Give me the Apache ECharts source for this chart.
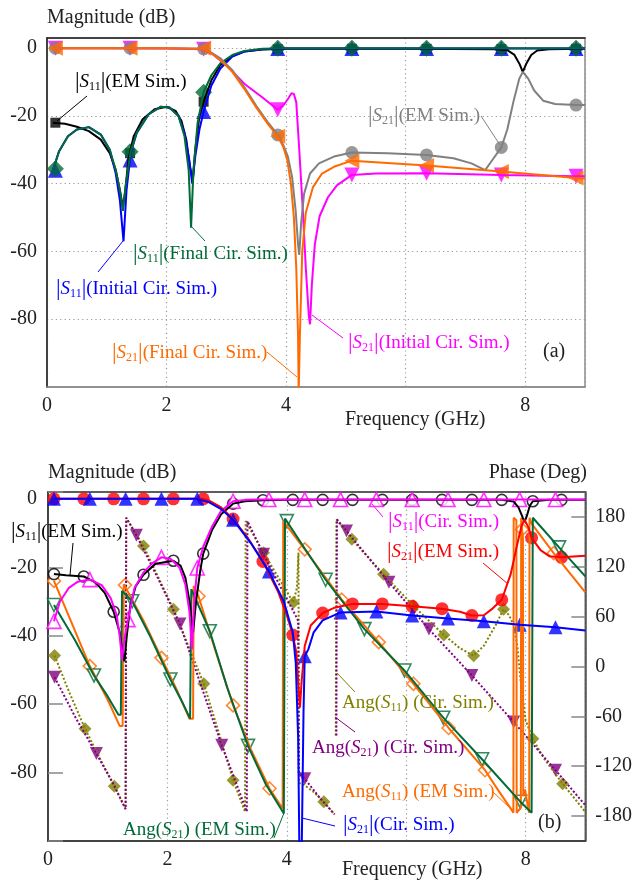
<!DOCTYPE html>
<html><head><meta charset="utf-8">
<script src="https://cdn.jsdelivr.net/npm/echarts@6/dist/echarts.min.js"></script>
<style>html,body{margin:0;padding:0;background:#fff}#c{width:635px;height:881px}</style>
</head><body><div id="c"></div>
<script>
// ---------------- DATA : panel (a) magnitude (dB) vs frequency (GHz) ----------------
const xTicks = [0, 2, 4, 8];
const a_s11_em = [[0.1,-22],[0.3,-22.3],[0.5,-23.2],[0.7,-24.5],[0.9,-27],[1.05,-31],[1.15,-36],[1.22,-42],[1.27,-47],[1.31,-42],[1.36,-33],[1.45,-26],[1.6,-21],[1.8,-18],[2.0,-17.3],[2.15,-18.5],[2.25,-21.5],[2.33,-27],[2.39,-35],[2.44,-39],[2.48,-30],[2.55,-20],[2.62,-15.8],[2.75,-9.5],[2.9,-5],[3.1,-2.3],[3.3,-1],[3.6,-0.4],[4,-0.2],[6,-0.2],[7.5,-0.3],[7.7,-0.6],[7.82,-2],[7.9,-4.5],[7.96,-7],[8.02,-4.5],[8.1,-2],[8.2,-0.7],[8.4,-0.3],[9,-0.2]];
const a_s11_em_mk = [[0.14,-22],[1.39,-31],[2.62,-15.8],[3.86,-0.3],[5.1,-0.2],[6.35,-0.2],[7.6,-0.3],[8.85,-0.2]];
const a_s11_ini = [[0.1,-36],[0.2,-30.5],[0.35,-26],[0.5,-24],[0.7,-23.3],[0.9,-25.5],[1.05,-30],[1.15,-37],[1.22,-45],[1.28,-57],[1.33,-42],[1.4,-31],[1.5,-25],[1.7,-19.5],[1.9,-17.3],[2.05,-17.5],[2.2,-20],[2.3,-25],[2.38,-33],[2.43,-40],[2.48,-32],[2.55,-24],[2.62,-18.7],[2.75,-11],[2.9,-6],[3.1,-2.5],[3.3,-1],[3.6,-0.3],[4,-0.1],[9,-0.1]];
const a_s11_ini_mk = [[0.14,-36],[1.39,-33],[2.62,-18.7],[3.86,-0.1],[5.1,-0.1],[6.35,-0.1],[7.6,-0.1],[8.85,-0.1]];
const a_s11_fin = [[0.1,-36],[0.2,-30.5],[0.35,-26],[0.5,-24],[0.7,-23.3],[0.9,-25.5],[1.05,-30],[1.15,-36],[1.22,-42],[1.27,-48],[1.32,-40],[1.4,-30.5],[1.5,-25],[1.7,-19.5],[1.9,-17.3],[2.05,-17.5],[2.2,-20],[2.3,-26],[2.37,-36],[2.41,-53],[2.45,-36],[2.52,-22],[2.62,-13],[2.75,-8],[2.9,-4.5],[3.1,-2],[3.3,-0.8],[3.6,-0.2],[4,0],[9,0]];
const a_s11_fin_mk = [[0.14,-35.6],[1.39,-30.6],[2.62,-13],[3.86,0],[5.1,0],[6.35,0],[7.6,0],[8.85,0]];
const a_s21_ini = [[0.1,0],[1.0,0],[2.0,-0.1],[2.62,-0.3],[2.75,-1.5],[3.0,-5],[3.3,-10.5],[3.6,-14.5],[3.86,-18.2],[3.95,-17],[4.03,-15],[4.09,-13.3],[4.13,-13.5],[4.17,-16],[4.22,-30],[4.28,-48],[4.33,-65],[4.38,-79],[4.40,-81.5],[4.43,-70],[4.48,-58],[4.56,-49.6],[4.7,-44],[4.85,-40.5],[5.1,-37.4],[5.5,-37],[6.35,-36.9],[7.6,-37.4],[8.85,-37.8],[9,-37.8]];
const a_s21_ini_mk = [[0.14,0],[1.39,0],[2.62,-0.3],[3.86,-18.2],[5.1,-37.4],[6.35,-36.9],[7.6,-37.4],[8.85,-37.8]];
const a_s21_em = [[0.1,0],[2.0,0],[2.62,-0.2],[2.75,-1.3],[2.9,-3],[3.1,-6.5],[3.3,-11.5],[3.5,-17],[3.7,-22],[3.86,-25.6],[3.95,-28.5],[4.03,-32],[4.1,-38],[4.16,-48],[4.2,-58],[4.22,-61],[4.25,-52],[4.3,-43],[4.4,-37],[4.55,-34],[4.8,-32],[5.1,-30.8],[5.7,-31],[6.35,-31.5],[6.8,-32.5],[7.1,-34],[7.33,-36],[7.45,-33],[7.6,-29.3],[7.7,-24],[7.8,-16],[7.9,-9],[7.96,-7],[8.05,-9],[8.15,-12.5],[8.3,-15.5],[8.5,-16.5],[8.85,-16.8],[9,-16.8]];
const a_s21_em_mk = [[0.14,0],[1.39,0],[2.62,-0.2],[3.86,-25.6],[5.1,-30.8],[6.35,-31.5],[7.6,-29.3],[8.85,-16.8]];
const a_s21_fin = [[0.1,0],[2.0,0],[2.62,-0.2],[2.75,-1.5],[2.9,-3.5],[3.1,-7],[3.3,-12],[3.5,-17.5],[3.7,-22.5],[3.86,-26],[3.95,-29],[4.02,-33],[4.08,-40],[4.13,-50],[4.17,-65],[4.2,-85],[4.21,-102],[4.23,-85],[4.27,-60],[4.33,-48.5],[4.45,-41],[4.6,-37],[4.8,-35],[5.1,-33.2],[6.35,-34.6],[7.6,-36.4],[8.85,-38.3],[9,-38.5]];
const a_s21_fin_mk = [[0.14,0],[1.39,0],[2.62,0],[3.86,-26],[5.1,-33.2],[6.35,-34.6],[7.6,-36.4],[8.85,-38.3]];

// ---------------- DATA : panel (b) ----------------
const b_s11_em = [[0.1,-22],[0.3,-22.3],[0.6,-22.7],[0.8,-24.5],[0.95,-27.5],[1.1,-33],[1.2,-39],[1.25,-45],[1.28,-47.5],[1.32,-40],[1.38,-31],[1.47,-25.5],[1.6,-22.2],[1.8,-19],[2.1,-18.1],[2.22,-19.5],[2.3,-23],[2.37,-30],[2.43,-39],[2.48,-30],[2.55,-21],[2.6,-16],[2.75,-9],[2.9,-4.5],[3.1,-1.4],[3.3,-0.7],[3.6,-0.4],[4,-0.3],[7.6,-0.3],[7.8,-0.8],[7.88,-2.5],[7.94,-5],[7.98,-6.8],[8.02,-5],[8.07,-2],[8.12,-0.7],[8.4,-0.3],[9,-0.3]];
const b_s11_em_mk = [[0.1,-22],[0.6,-22.7],[1.1,-33],[1.6,-22.2],[2.1,-18.1],[2.6,-16],[3.1,-1.4],[3.6,-0.4],[4.1,-0.3],[4.6,-0.3],[5.1,-0.3],[5.6,-0.3],[6.1,-0.3],[6.6,-0.3],[7.1,-0.3],[7.6,-0.3],[8.12,-0.7],[8.6,-0.3]];
const b_s11_cir = [[0.1,-35.8],[0.2,-30],[0.35,-26],[0.5,-24.2],[0.7,-23.6],[0.9,-25.2],[1.05,-29],[1.15,-34],[1.2,-40],[1.24,-47],[1.29,-40],[1.34,-35.3],[1.45,-26],[1.6,-21.5],[1.75,-18.8],[1.9,-17.1],[2.05,-17.5],[2.2,-20],[2.3,-25],[2.37,-33],[2.41,-44],[2.45,-30],[2.5,-20.2],[2.6,-14],[2.75,-8],[2.9,-3.5],[3.1,-0.7],[3.3,-0.3],[3.6,-0.2],[9,-0.2]];
const b_s11_cir_mk = [[0.1,-35.8],[0.7,-23.6],[1.34,-35.3],[1.9,-17.1],[2.5,-20.2],[3.1,-0.7],[3.7,-0.2],[4.3,-0.2],[4.9,-0.2],[5.5,-0.2],[6.1,-0.2],[6.7,-0.2],[7.3,-0.2],[7.9,-0.2],[8.5,-0.2]];
const b_s21_em = [[0.1,0],[2.6,0],[2.7,-0.5],[2.9,-2.5],[3.1,-5.9],[3.35,-11.5],[3.6,-18.3],[3.85,-27],[4.0,-34],[4.1,-39.8],[4.16,-45],[4.2,-56],[4.22,-61],[4.25,-53],[4.3,-43],[4.4,-37],[4.6,-33.4],[4.8,-31.8],[5.1,-30.7],[5.6,-30.7],[6.1,-31.4],[6.6,-32.1],[6.9,-33],[7.1,-34.1],[7.3,-34],[7.45,-32],[7.6,-29.5],[7.75,-22],[7.85,-14],[7.93,-8],[7.98,-6],[8.05,-8.5],[8.1,-11.4],[8.25,-15],[8.4,-16.8],[8.6,-17.1],[9,-16.6]];
const b_s21_em_mk = [[0.1,0],[0.6,0],[1.1,0],[1.6,0],[2.1,0],[2.6,0],[3.1,-5.9],[3.6,-18.3],[4.1,-39.8],[4.6,-33.4],[5.1,-30.7],[5.6,-30.7],[6.1,-31.4],[6.6,-32.1],[7.1,-34.1],[7.6,-29.5],[8.1,-11.4],[8.6,-17.1]];
const b_s21_cir = [[0.1,0],[2.5,0],[2.7,-1],[2.9,-3],[3.1,-6.1],[3.4,-13],[3.7,-21.2],[3.95,-30],[4.1,-39],[4.15,-48],[4.19,-70],[4.21,-102],[4.25,-102],[4.28,-62],[4.3,-46],[4.36,-44],[4.45,-39],[4.6,-35.5],[4.9,-33.2],[5.5,-32.9],[6.1,-34.1],[6.7,-35],[7.3,-35.8],[7.9,-36.8],[8.5,-37.5],[9,-38.5]];
const b_s21_cir_mk = [[0.1,0],[0.7,0],[1.3,0],[1.9,0],[2.5,0],[3.1,-6.1],[3.7,-21.2],[4.3,-46],[4.9,-33.2],[5.5,-32.9],[6.1,-34.1],[6.7,-35],[7.3,-35.8],[7.9,-36.8],[8.5,-37.5]];
// phase (deg)
const b_a21_em = [[0.1,74],[0.45,32],[0.77,-10.8],[1.0,-36],[1.18,-58],[1.22,-58],[1.24,91],[1.41,78.5],[1.7,38],[2.05,-15.6],[2.25,-43],[2.38,-62.8],[2.4,93],[2.71,42.5],[3.0,-25],[3.35,-95.5],[3.65,-142],[3.95,-176.8],[3.97,178],[4.3,142],[4.65,104.4],[5.0,72],[5.3,45],[5.97,-4.8],[6.62,-61.6],[7.27,-111.6],[7.91,-162.7],[8.1,-176],[8.12,179],[8.56,143.3],[9,108.5]];
const b_a21_em_mk = [[0.1,74],[0.77,-10.8],[1.41,78.5],[2.05,-15.6],[2.71,42.5],[3.35,-95.5],[4.0,175],[4.65,104.4],[5.3,45],[5.97,-4.8],[6.62,-61.6],[7.27,-111.6],[7.91,-162.7],[8.56,143.3]];
const b_a11_em = [[0.1,103],[0.4,52],[0.7,0.5],[1.0,-40],[1.2,-71.5],[1.25,-71.5],[1.27,99],[1.29,98],[1.6,55],[1.9,10.4],[2.15,-27],[2.37,-63],[2.43,-63],[2.44,97],[2.52,84.5],[2.8,20],[3.1,-46.8],[3.4,-100],[3.71,-146.8],[3.93,-170.8],[3.94,175],[4.3,141],[4.92,80.4],[5.54,29.3],[6.12,-20.8],[6.71,-74],[7.32,-124.8],[7.55,-150],[7.76,-172],[7.795,-176],[7.80,179],[7.845,176],[7.85,-176],[7.92,-170],[7.925,179],[7.94,165],[7.955,155],[7.96,-156],[7.99,-148],[8.04,-170],[8.06,-176],[8.065,179],[8.1,172],[8.47,136.4],[9,89.3]];
const b_a11_em_mk = [[0.1,103],[0.7,0.5],[1.29,98],[1.9,10.4],[2.52,84.5],[3.1,-46.8],[3.71,-146.8],[4.3,141],[4.92,80.4],[5.54,29.3],[6.12,-20.8],[6.71,-74],[7.32,-124.8],[7.94,165],[8.47,136.4]];
const b_a11_cir = [[0.11,13.2],[0.35,-30],[0.62,-74.8],[0.9,-115],[1.11,-144],[1.3,-171.6],[1.31,179],[1.6,145],[1.85,107],[2.1,69],[2.35,25],[2.61,-20.8],[2.85,-77],[3.1,-136.8],[3.3,-174.7],[3.31,175],[3.61,137],[3.86,107],[4.11,77],[4.17,95],[4.195,137],[4.205,-140],[4.3,-143],[4.45,-151],[4.62,-162.7],[4.8,-178],[4.81,'-'],[4.82,-83],[4.83,177],[5.09,153],[5.62,111],[6.12,73],[6.63,38],[6.9,22],[7.13,13],[7.3,25],[7.5,50],[7.63,69],[7.72,62],[7.8,50],[7.86,25],[7.92,-20],[8.0,-65],[8.12,-87],[8.3,-110],[8.62,-141],[9,-175]];
const b_a11_cir_mk = [[0.11,13.2],[0.62,-74.8],[1.11,-144],[1.6,145],[2.1,69],[2.61,-20.8],[3.1,-136.8],[3.61,137],[4.11,77],[4.62,-162.7],[5.09,153],[5.62,111],[6.12,73],[6.63,38],[7.13,13],[7.63,69],[8.12,-87],[8.62,-141]];
const b_a21_cir = [[0.11,-12.8],[0.45,-60],[0.81,-104.8],[1.1,-142],[1.3,-171.6],[1.31,179],[1.48,158],[1.85,105],[2.21,51],[2.55,-20],[2.91,-94.8],[3.15,-140],[3.33,-174.7],[3.34,175],[3.61,135],[3.9,95],[4.1,68],[4.19,55],[4.2,-128],[4.3,-135],[4.55,-158],[4.8,-178],[4.81,'-'],[4.83,-83],[4.84,177],[5.0,163],[5.71,101.3],[6.38,45],[7.1,-10.8],[7.8,-66.7],[8.5,-124.8],[9,-167]];
const b_a21_cir_mk = [[0.11,-12.8],[0.81,-104.8],[1.48,158],[2.21,51],[2.91,-94.8],[3.61,135],[4.3,-135],[5.0,163],[5.71,101.3],[6.38,45],[7.1,-10.8],[7.8,-66.7],[8.5,-124.8]];
const phaseTicks = [-180,-120,-60,0,60,120,180];

// ---------------- styling ----------------
const F = 'Liberation Serif';
const C = {black:'#000000', blue:'#0000ff', green:'#006b38', magenta:'#ff00ff', gray:'#808080', orange:'#ff6a00',
           red:'#ff0000', olive:'#808000', purple:'#800080'};
const GA = {left:47, top:38, width:538, height:349};
const GB = {left:48, top:492, width:538, height:349};

function line(data, color, xi, yi, extra) {
  return Object.assign({type:'line', data:data, xAxisIndex:xi, yAxisIndex:yi, showSymbol:false, symbol:'none',
    lineStyle:{color:color, width:2}, itemStyle:{color:color}, animation:false, silent:true, connectNulls:false}, extra||{});
}
function pts(data, symbol, size, color, hollow, rot, xi, yi) {
  return {type:'scatter', data:data, xAxisIndex:xi, yAxisIndex:yi, symbol:symbol, symbolSize:size, symbolRotate:rot||0,
    itemStyle: hollow ? {color:'#ffffff', borderColor:color, borderWidth:1.6} : {color:color},
    animation:false, silent:true};
}
const tickFont = {fontFamily:F, fontSize:20, color:'#222'};
function xAx(gi, dark) {
  return {type:'value', gridIndex:gi, min:0, max:9, interval:2,
    axisLine:{show:true, onZero:false, lineStyle:{color:dark, width:1.5}}, axisTick:{show:false},
    axisLabel:Object.assign({margin:9, formatter:v => xTicks.indexOf(v) >= 0 ? String(v) : ''}, tickFont),
    splitLine:{show:true, lineStyle:{color:'#9a9a9a', type:[1.2,3.2], width:1.2}}};
}
function topAx(gi, col) {
  return {type:'value', gridIndex:gi, min:0, max:9, position:'top', axisLine:{show:true, onZero:false, lineStyle:{color:col, width:1.5}},
    axisTick:{show:false}, axisLabel:{show:false}, splitLine:{show:false}};
}

// rich-text label helper for |S11|-style annotations
function richLab(kind, sub, tail, color) {
  let txt;
  if (kind === 'mag') txt = '{b||}{s|S}{u|' + sub + '}{b||}{t|' + tail + '}';
  else txt = '{t|Ang(}{s|S}{u|' + sub + '}{t|' + tail + '}';
  return {text: txt, fill: color, rich: {
    b:{fontFamily:F, fontSize:23, fill:color},
    s:{fontFamily:F, fontSize:19, fontStyle:'italic', fill:color},
    u:{fontFamily:F, fontSize:12, fill:color, padding:[9,0,0,0]},
    t:{fontFamily:F, fontSize:19, fill:color}
  }};
}
function annot(x, y, style, align) {
  return {type:'text', x:x, y:y, z:50, silent:true,
    style:Object.assign({align:align||'left', verticalAlign:'middle'}, style)};
}
function plain(x, y, text, align, size, color) {
  return annot(x, y, {text:text, fill:color||'#222', fontFamily:F, fontSize:size||20}, align);
}
function leader(x1, y1, x2, y2, color) {
  return {type:'line', z:49, silent:true, shape:{x1:x1, y1:y1, x2:x2, y2:y2}, style:{stroke:color, lineWidth:1}};
}

const option = {
  backgroundColor:'#ffffff',
  animation:false,
  grid:[
    Object.assign({show:true, borderColor:'#8a8a8a', borderWidth:1.5}, GA),
    Object.assign({show:true, borderColor:'#4a4a4a', borderWidth:1.5}, GB)
  ],
  xAxis:[ xAx(0,'#8a8a8a'), xAx(1,'#333'), topAx(0,'#222'), topAx(1,'#555') ],
  yAxis:[
    {type:'value', gridIndex:0, min:-100, max:3, interval:20,
     axisLine:{show:true, onZero:false, lineStyle:{color:'#222', width:1.5}}, axisTick:{show:false},
     axisLabel:Object.assign({margin:10, formatter:v => (v%20===0 && v>-100 && v<=0) ? String(v) : ''}, tickFont),
     splitLine:{show:true, lineStyle:{color:'#9a9a9a', type:[1.2,3.2], width:1.2}}},
    {type:'value', gridIndex:1, min:-100, max:2, interval:20,
     axisLine:{show:true, onZero:false, lineStyle:{color:'#333', width:1.5}},
     axisTick:{show:true, inside:true, length:15, lineStyle:{color:'#888', width:1.5}},
     axisLabel:Object.assign({margin:11, formatter:v => (v%20===0 && v>-100 && v<=0) ? String(v) : ''}, tickFont),
     splitLine:{show:false}},
    {type:'value', gridIndex:1, min:-210, max:210, interval:30, position:'right',
     axisLine:{show:true, onZero:false, lineStyle:{color:'#555', width:1.5}},
     axisTick:{show:true, inside:true, length:14, customValues:phaseTicks, lineStyle:{color:'#888', width:1.5}},
     axisLabel:Object.assign({margin:10, customValues:phaseTicks, formatter:v => (v%60===0 && Math.abs(v)<=180) ? String(v) : ''}, tickFont),
     splitLine:{show:false}}
  ],
  series:[
    // panel a lines
    line(a_s11_em, C.black, 0, 0),
    line(a_s11_ini, C.blue, 0, 0),
    line(a_s11_fin, C.green, 0, 0),
    line(a_s21_ini, C.magenta, 0, 0),
    line(a_s21_em, C.gray, 0, 0),
    line(a_s21_fin, C.orange, 0, 0),
    // panel a markers
    pts(a_s11_em_mk, 'rect', 10, C.black, false, 0, 0, 0),
    pts(a_s11_ini_mk, 'triangle', 15, C.blue, false, 0, 0, 0),
    pts(a_s11_fin_mk, 'diamond', 17, C.green, false, 0, 0, 0),
    pts(a_s21_ini_mk, 'triangle', 15, C.magenta, false, 180, 0, 0),
    pts(a_s21_em_mk, 'circle', 13, C.gray, false, 0, 0, 0),
    pts(a_s21_fin_mk, 'triangle', 15, C.orange, false, 90, 0, 0),
    // panel b phase lines
    line(b_a11_cir, C.olive, 1, 2, {lineStyle:{color:C.olive, width:2, type:[2,2]}}),
    line(b_a21_cir, C.purple, 1, 2, {lineStyle:{color:C.purple, width:2, type:[2,2]}}),
    line(b_a11_em, C.orange, 1, 2),
    line(b_a21_em, C.green, 1, 2),
    // panel b magnitude lines
    line(b_s11_em, C.black, 1, 1),
    line(b_s11_cir, C.magenta, 1, 1),
    line(b_s21_em, C.red, 1, 1),
    line(b_s21_cir, C.blue, 1, 1),
    // panel b markers
    pts(b_a11_cir_mk, 'diamond', 13, C.olive, false, 0, 1, 2),
    pts(b_a21_cir_mk, 'triangle', 13, C.purple, false, 180, 1, 2),
    pts(b_a11_em_mk, 'diamond', 13, C.orange, true, 0, 1, 2),
    pts(b_a21_em_mk, 'triangle', 13, C.green, true, 180, 1, 2),
    pts(b_s11_em_mk, 'circle', 11, C.black, true, 0, 1, 1),
    pts(b_s21_em_mk, 'circle', 13, C.red, false, 0, 1, 1),
    pts(b_s21_cir_mk, 'triangle', 14, C.blue, false, 0, 1, 1),
    pts(b_s11_cir_mk, 'triangle', 14, C.magenta, true, 0, 1, 1)
  ],
  graphic:[
    // panel a
    plain(47, 18, 'Magnitude (dB)'),
    plain(345, 420, 'Frequency (GHz)'),
    plain(543, 352, '(a)'),
    annot(75, 82, richLab('mag','11','(EM Sim.)', C.black)), leader(87,96,57,121,C.black),
    annot(133, 254, richLab('mag','11','(Final Cir. Sim.)', C.green)), leader(191,226,205,241,C.green),
    annot(56, 289, richLab('mag','11','(Initial Cir. Sim.)', C.blue)), leader(123,241,98,272,C.blue),
    annot(112, 353, richLab('mag','21','(Final Cir. Sim.)', C.orange)), leader(267,352,297,377,C.orange),
    annot(348, 343, richLab('mag','21','(Initial Cir. Sim.)', C.magenta)), leader(312,315,343,338,C.magenta),
    annot(368, 116, richLab('mag','21','(EM Sim.)', C.gray)), leader(481,116,500,145,C.gray),
    // panel b
    plain(48, 473, 'Magnitude (dB)'),
    plain(587, 473, 'Phase (Deg)', 'right'),
    plain(342, 870, 'Frequency (GHz)'),
    plain(538, 823, '(b)'),
    annot(11, 532, richLab('mag','11','(EM Sim.)', C.black)), leader(73,543,70,575,C.black),
    annot(388, 522, richLab('mag','11','(Cir. Sim.)', C.magenta)), leader(383,517,372,504,C.magenta),
    annot(387, 552, richLab('mag','21','(EM Sim.)', C.red)), leader(483,563,508,584,C.red),
    annot(342, 703, richLab('ang','11',') (Cir. Sim.)', C.olive)), leader(355,692,337,673,C.olive),
    annot(312, 748, richLab('ang','21',') (Cir. Sim.)', C.purple)), leader(355,732,335,717,C.purple),
    annot(342, 792, richLab('ang','11',') (EM Sim.)', C.orange)), leader(493,792,510,808,C.orange),
    annot(343, 825, richLab('mag','21','(Cir. Sim.)', C.blue)), leader(335,826,302,818,C.blue),
    annot(123, 830, richLab('ang','21',') (EM Sim.)', C.green)), leader(274,838,284,813,C.green)
  ]
};
const chart = echarts.init(document.getElementById('c'), null, {renderer:'canvas', width:635, height:881});
chart.setOption(option);
</script></body></html>
